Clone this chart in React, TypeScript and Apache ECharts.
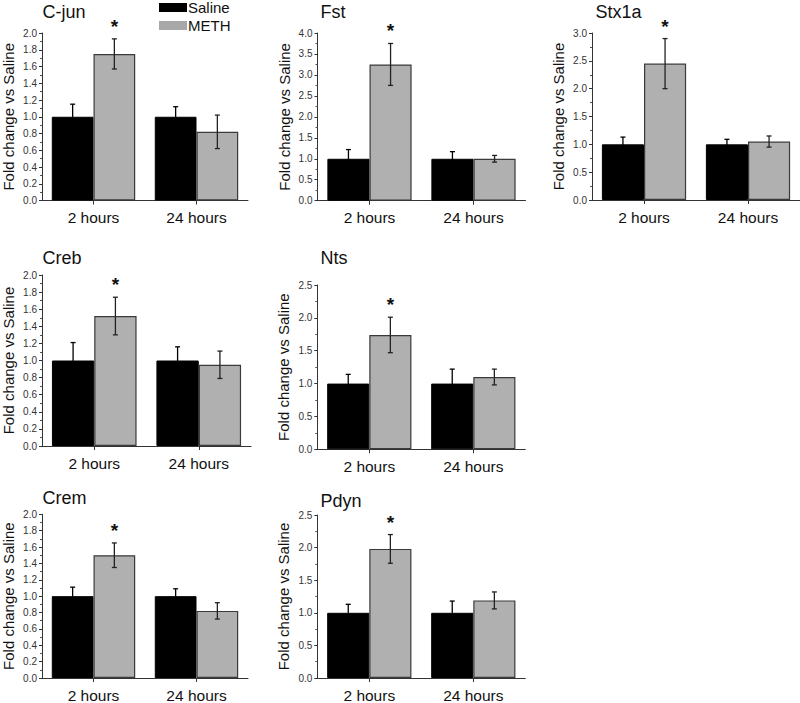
import React, { useEffect, useRef } from "react";
import * as echarts from "echarts";

const timepoints = ["2 hours", "24 hours"];
const genes = ["C-jun", "Fst", "Stx1a", "Creb", "Nts", "Crem", "Pdyn"];
const salineMean = [[1.0, 1.0], [1.0, 1.0], [1.0, 1.0], [1.0, 1.0], [1.0, 1.0], [1.0, 1.0], [1.0, 1.0]];
const salineErr = [[0.15, 0.12], [0.22, 0.17], [0.13, 0.09], [0.21, 0.16], [0.14, 0.22], [0.11, 0.09], [0.13, 0.18]];
const methMean = [[1.75, 0.82], [3.25, 1.0], [2.45, 1.05], [1.52, 0.95], [1.74, 1.1], [1.5, 0.82], [1.98, 1.19]];
const methErr = [[0.18, 0.2], [0.5, 0.08], [0.45, 0.1], [0.22, 0.16], [0.27, 0.12], [0.15, 0.1], [0.22, 0.13]];
const significant = [[1, 0], [1, 0], [1, 0], [1, 0], [1, 0], [1, 0], [1, 0]];
const yMax = [2.0, 4.0, 3.0, 2.0, 2.5, 2.0, 2.5];
const yStep = [0.2, 0.5, 0.5, 0.2, 0.5, 0.2, 0.5];

// panel layout in px: left, top, width, height
const layout = [
  [40, 33, 208, 167.5],
  [317.5, 33, 208, 167.7],
  [592, 33, 208, 167],
  [41, 275, 210, 171],
  [317.3, 285, 208, 164.3],
  [39.5, 514.3, 208.5, 168],
  [317.3, 515, 208, 166.7],
];
const titlePos = [
  [42.5, 3],
  [320.5, 3],
  [595.5, 3],
  [42.5, 249],
  [320.5, 249],
  [42.5, 489],
  [320.5, 491.5],
];

const CAT_GAP = 0.19;
const FONT = "'Liberation Sans', Arial, Helvetica, sans-serif";

function makeErrRender(side: number) {
  return (params: any, api: any) => {
    const cat = api.value(0);
    const mean = api.value(1);
    const err = api.value(2);
    const sig = api.value(3);
    const band = api.size([1, 0])[0];
    const barW = (band * (1 - CAT_GAP)) / 2;
    const c = api.coord([cat, mean]);
    const x = c[0] + (side * barW) / 2;
    const yTop = api.coord([cat, mean + err])[1];
    const yBot = api.coord([cat, mean - err])[1];
    const color = side < 0 ? "#000" : "#222";
    const cap = 2.5;
    const ls = { stroke: color, lineWidth: 1.3 };
    const children: any[] = [
      { type: "line", shape: { x1: x, y1: yTop, x2: x, y2: yBot }, style: ls },
      { type: "line", shape: { x1: x - cap, y1: yTop, x2: x + cap, y2: yTop }, style: ls },
      { type: "line", shape: { x1: x - cap, y1: yBot, x2: x + cap, y2: yBot }, style: ls },
    ];
    if (sig) {
      children.push({
        type: "text",
        style: {
          text: "*",
          x: x,
          y: yTop - 3,
          align: "center",
          verticalAlign: "bottom",
          fontSize: 19,
          fontWeight: "bold",
          fontFamily: FONT,
          fill: "#111",
        },
      });
    }
    return { type: "group", children };
  };
}

export default function App() {
  const ref = useRef<HTMLDivElement>(null);
  useEffect(() => {
    const chart = echarts.init(ref.current!, null, { renderer: "svg" });
    const grid: any[] = [];
    const xAxis: any[] = [];
    const yAxis: any[] = [];
    const series: any[] = [];
    const title: any[] = [];
    genes.forEach((g, i) => {
      const [l, t, w, h] = layout[i];
      grid.push({ left: l, top: t, width: w, height: h, containLabel: false });
      title.push({
        text: g,
        left: titlePos[i][0],
        top: titlePos[i][1],
        padding: 0,
        textStyle: { fontSize: 18, fontWeight: "normal", color: "#111", fontFamily: FONT },
      });
      xAxis.push({
        type: "category",
        gridIndex: i,
        data: timepoints,
        axisLine: { lineStyle: { color: "#333", width: 1 } },
        axisTick: { show: true, alignWithLabel: true, length: 4, lineStyle: { color: "#333" } },
        axisLabel: { fontSize: 15.5, color: "#111", margin: 9, fontFamily: FONT },
      });
      yAxis.push({
        type: "value",
        gridIndex: i,
        min: 0,
        max: yMax[i],
        interval: yStep[i],
        name: "Fold change vs Saline",
        nameLocation: "middle",
        nameGap: 26,
        nameTextStyle: { fontSize: 15, color: "#111", fontFamily: FONT },
        splitLine: { show: false },
        axisLine: { show: true, lineStyle: { color: "#333", width: 1 } },
        axisTick: { show: true, length: 3, lineStyle: { color: "#333" } },
        minorTick: { show: true, splitNumber: 2, length: 2, lineStyle: { color: "#555" } },
        axisLabel: {
          fontSize: 10,
          color: "#333",
          margin: 5,
          fontFamily: FONT,
          formatter: (v: number) => v.toFixed(1),
        },
      });
      series.push({
        name: "Saline",
        type: "bar",
        xAxisIndex: i,
        yAxisIndex: i,
        data: salineMean[i],
        barGap: "0%",
        barCategoryGap: CAT_GAP * 100 + "%",
        itemStyle: { color: "#000", borderColor: "#000", borderWidth: 1 },
      });
      series.push({
        name: "METH",
        type: "bar",
        xAxisIndex: i,
        yAxisIndex: i,
        data: methMean[i],
        barGap: "0%",
        barCategoryGap: CAT_GAP * 100 + "%",
        itemStyle: { color: "#b0b0b0", borderColor: "#3a3a3a", borderWidth: 1.2 },
      });
      series.push({
        type: "custom",
        xAxisIndex: i,
        yAxisIndex: i,
        clip: false,
        z: 5,
        renderItem: makeErrRender(-1),
        data: timepoints.map((_, k) => [k, salineMean[i][k], salineErr[i][k], 0]),
      });
      series.push({
        type: "custom",
        xAxisIndex: i,
        yAxisIndex: i,
        clip: false,
        z: 5,
        renderItem: makeErrRender(1),
        data: timepoints.map((_, k) => [k, methMean[i][k], methErr[i][k], significant[i][k]]),
      });
    });
    chart.setOption({
      animation: false,
      backgroundColor: "#fff",
      textStyle: { fontFamily: FONT },
      title,
      legend: {
        orient: "vertical",
        left: 159,
        top: 0,
        padding: 0,
        itemWidth: 28,
        itemHeight: 9,
        itemGap: 3,
        icon: "rect",
        textStyle: { fontSize: 15, color: "#111", fontFamily: FONT, padding: [0, 0, 0, -4] },
        data: [
          { name: "Saline", itemStyle: { color: "#000", borderWidth: 0 } },
          { name: "METH", itemStyle: { color: "#a8a8a8", borderWidth: 0 } },
        ],
      },
      grid,
      xAxis,
      yAxis,
      series,
    });
    return () => chart.dispose();
  }, []);
  return (
    <div
      ref={ref}
      style={{ position: "absolute", left: 0, top: 0, width: 800, height: 703, background: "#fff" }}
    />
  );
}
